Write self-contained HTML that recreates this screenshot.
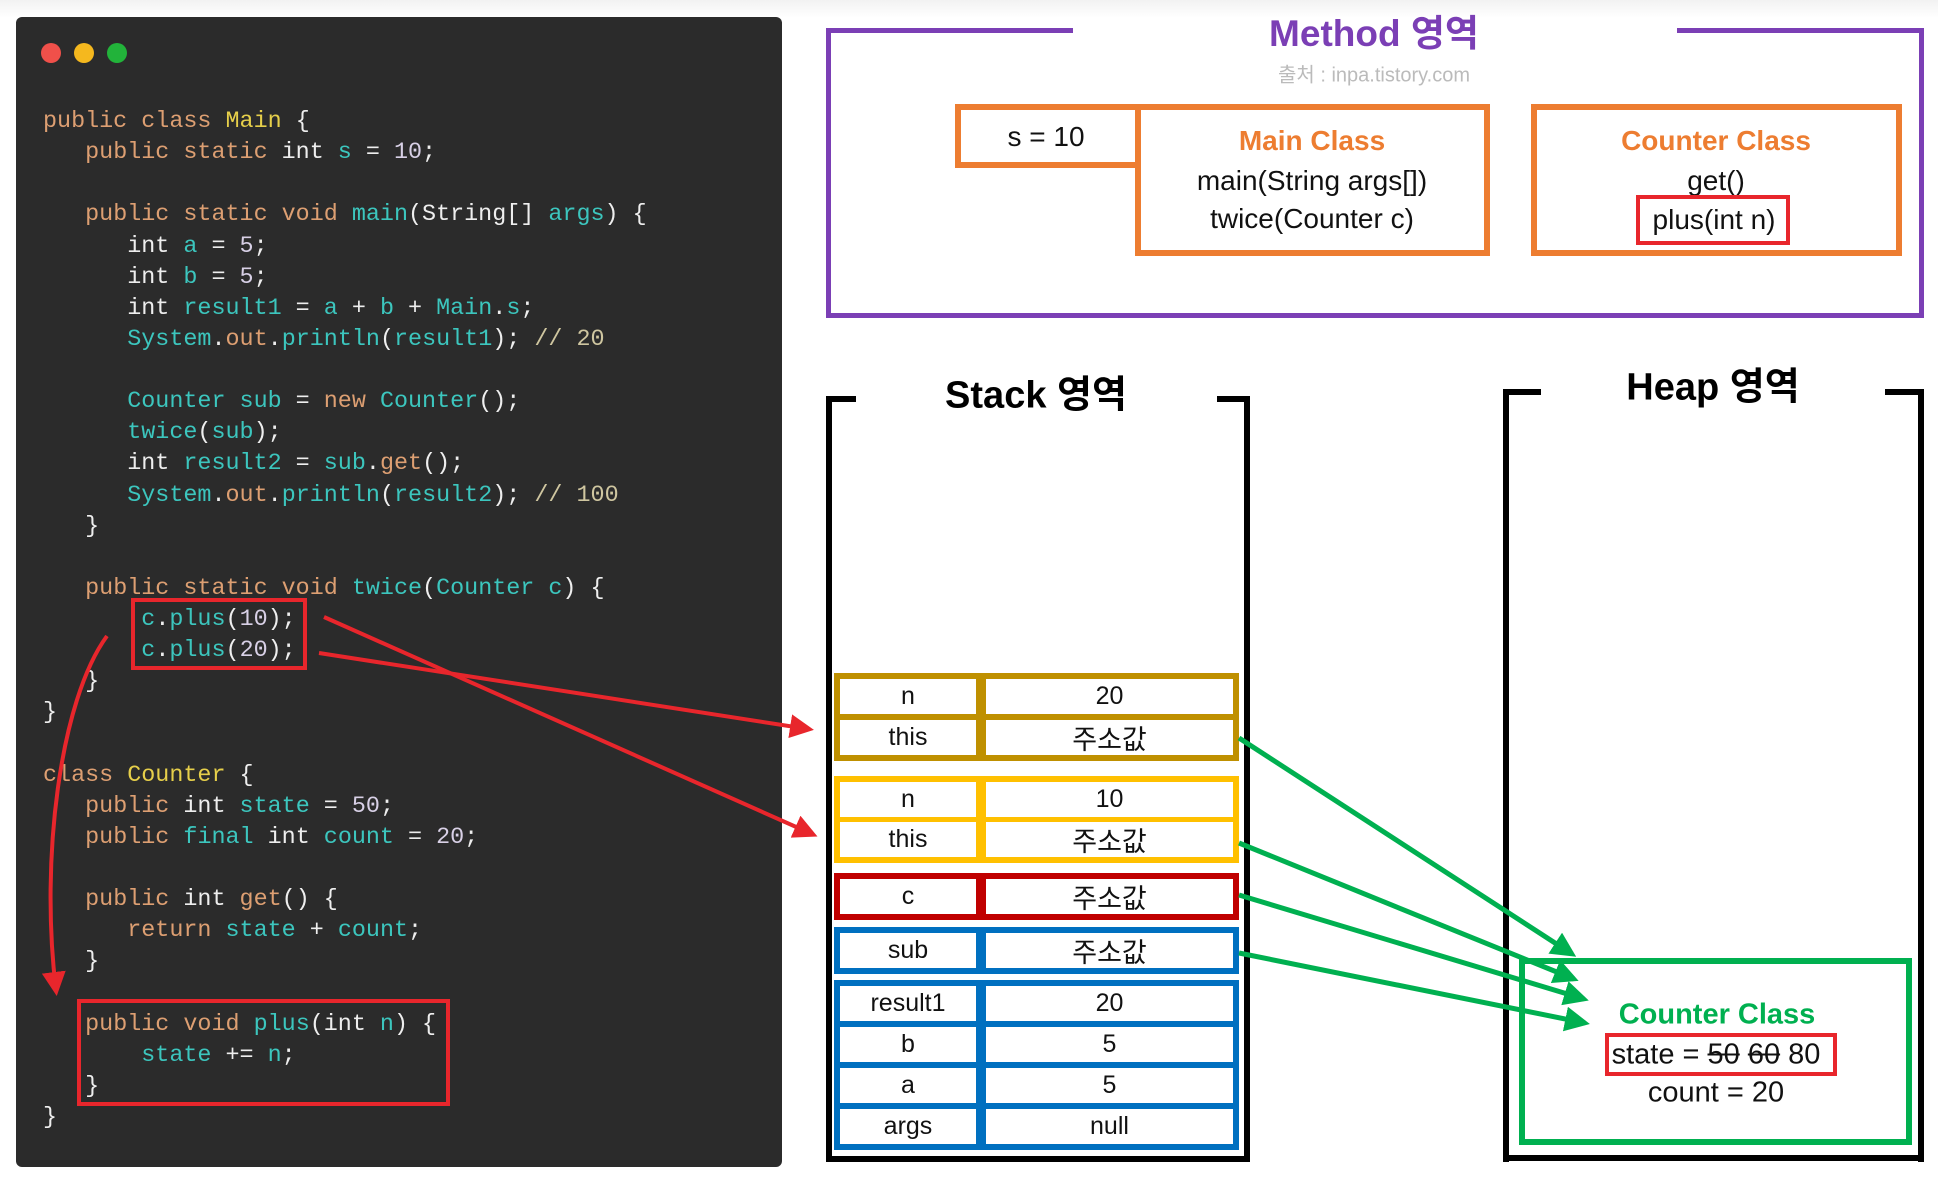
<!DOCTYPE html>
<html><head><meta charset="utf-8"><style>
*{margin:0;padding:0;box-sizing:border-box}
body{width:1938px;height:1184px;background:#fff;position:relative;overflow:hidden;font-family:"Liberation Sans","Noto Sans CJK KR",sans-serif}
.a{position:absolute}
#code{position:absolute;left:16px;top:17px;width:766px;height:1150px;background:#2b2b2b;border-radius:6px}
pre{position:absolute;left:43px;top:107px;font-family:"Liberation Mono","DejaVu Sans Mono",monospace;font-size:23.4px;line-height:31.13px;color:#eeeeee}
.k{color:#dd9f72}.t{color:#3cc6be}.y{color:#e6cf4a}.n{color:#d8d0e6}.c{color:#cfc6a0}
.grp{position:absolute;left:834px;width:405px}
.cell{position:absolute;background:#fff;display:flex;align-items:center;justify-content:center;font-size:25px;color:#111}
.ko{font-family:"Liberation Sans","Noto Sans CJK KR",sans-serif;font-size:27px}
.ctr{position:absolute;text-align:center;white-space:nowrap;transform:translate(-50%,-50%)}
</style></head><body>
<div style="position:absolute;left:0;top:0;width:1938px;height:18px;background:linear-gradient(#f2f2f2,#fff)"></div>
<div id="code">
<div class="a" style="left:25px;top:26px;width:20px;height:20px;border-radius:50%;background:#f0504a"></div>
<div class="a" style="left:58px;top:26px;width:20px;height:20px;border-radius:50%;background:#f5b81e"></div>
<div class="a" style="left:91px;top:26px;width:20px;height:20px;border-radius:50%;background:#22b33a"></div>
</div>
<pre><span class="k">public class</span> <span class="y">Main</span> {
   <span class="k">public static</span> int <span class="t">s</span> = <span class="n">10</span>;

   <span class="k">public static void</span> <span class="t">main</span>(String[] <span class="t">args</span>) {
      int <span class="t">a</span> = <span class="n">5</span>;
      int <span class="t">b</span> = <span class="n">5</span>;
      int <span class="t">result1</span> = <span class="t">a</span> + <span class="t">b</span> + <span class="t">Main</span>.<span class="t">s</span>;
      <span class="t">System</span>.<span class="k">out</span>.<span class="t">println</span>(<span class="t">result1</span>); <span class="c">// 20</span>

      <span class="t">Counter sub</span> = <span class="k">new</span> <span class="t">Counter</span>();
      <span class="t">twice</span>(<span class="t">sub</span>);
      int <span class="t">result2</span> = <span class="t">sub</span>.<span class="k">get</span>();
      <span class="t">System</span>.<span class="k">out</span>.<span class="t">println</span>(<span class="t">result2</span>); <span class="c">// 100</span>
   }

   <span class="k">public static void</span> <span class="t">twice</span>(<span class="t">Counter c</span>) {
       <span class="t">c</span>.<span class="t">plus</span>(<span class="n">10</span>);
       <span class="t">c</span>.<span class="t">plus</span>(<span class="n">20</span>);
   }
}

<span class="k">class</span> <span class="y">Counter</span> {
   <span class="k">public</span> int <span class="t">state</span> = <span class="n">50</span>;
   <span class="k">public</span> <span class="t">final</span> int <span class="t">count</span> = <span class="n">20</span>;

   <span class="k">public</span> int <span class="k">get</span>() {
      <span class="k">return</span> <span class="t">state</span> + <span class="t">count</span>;
   }

   <span class="k">public void</span> <span class="t">plus</span>(int <span class="t">n</span>) {
       <span class="t">state</span> += <span class="t">n</span>;
   }
}</pre>
<div class="a" style="left:131px;top:598px;width:176px;height:72px;border:4px solid #e8262c"></div>
<div class="a" style="left:77px;top:999px;width:373px;height:107px;border:4px solid #e8262c"></div>

<div class="a" style="left:826px;top:28px;width:1098px;height:290px;border:5px solid #7b3fb5"></div>
<div class="a" style="left:1073px;top:20px;width:604px;height:16px;background:#fff"></div>
<div class="ctr" style="left:1374px;top:30px;font-size:37px;font-weight:bold;color:#7b3fb5">Method 영역</div>
<div class="ctr" style="left:1374px;top:73px;font-size:20px;color:#bbb">출처 : inpa.tistory.com</div>
<div class="a" style="left:955px;top:104px;width:186px;height:64px;border:6px solid #ed7d31"></div>
<div class="ctr" style="left:1046px;top:137px;font-size:28px;color:#111">s = 10</div>
<div class="a" style="left:1135px;top:104px;width:355px;height:152px;border:6px solid #ed7d31"></div>
<div class="ctr" style="left:1312px;top:141px;font-size:28px;font-weight:bold;color:#ed7d31">Main Class</div>
<div class="ctr" style="left:1312px;top:181px;font-size:28px;color:#111">main(String args[])</div>
<div class="ctr" style="left:1312px;top:219px;font-size:28px;color:#111">twice(Counter c)</div>
<div class="a" style="left:1531px;top:104px;width:371px;height:152px;border:6px solid #ed7d31"></div>
<div class="ctr" style="left:1716px;top:141px;font-size:28px;font-weight:bold;color:#ed7d31">Counter Class</div>
<div class="ctr" style="left:1716px;top:181px;font-size:28px;color:#111">get()</div>
<div class="a" style="left:1636px;top:195px;width:154px;height:50px;border:4px solid #e8262c"></div>
<div class="ctr" style="left:1714px;top:220px;font-size:28px;color:#111">plus(int n)</div>

<div class="a" style="left:826px;top:396px;width:6px;height:766px;background:#000"></div>
<div class="a" style="left:1244px;top:396px;width:6px;height:766px;background:#000"></div>
<div class="a" style="left:826px;top:1156px;width:424px;height:6px;background:#000"></div>
<div class="a" style="left:826px;top:396px;width:30px;height:6px;background:#000"></div>
<div class="a" style="left:1217px;top:396px;width:33px;height:6px;background:#000"></div>
<div class="ctr" style="left:1036px;top:391px;font-size:38px;font-weight:bold;color:#000">Stack 영역</div>

<div class="a" style="left:1503px;top:389px;width:6px;height:773px;background:#000"></div>
<div class="a" style="left:1918px;top:389px;width:6px;height:773px;background:#000"></div>
<div class="a" style="left:1503px;top:1155px;width:421px;height:6px;background:#000"></div>
<div class="a" style="left:1503px;top:389px;width:38px;height:6px;background:#000"></div>
<div class="a" style="left:1885px;top:389px;width:39px;height:6px;background:#000"></div>
<div class="ctr" style="left:1713px;top:383px;font-size:38px;font-weight:bold;color:#000">Heap 영역</div>

<div class="grp" style="top:673px;height:88px;background:#bf9000">
 <div class="cell" style="left:6px;top:6px;width:136px;height:35px">n</div>
 <div class="cell" style="left:152px;top:6px;width:247px;height:35px">20</div>
 <div class="cell" style="left:6px;top:47px;width:136px;height:35px">this</div>
 <div class="cell ko" style="left:152px;top:47px;width:247px;height:35px">주소값</div>
</div>
<div class="grp" style="top:776px;height:87px;background:#ffc000">
 <div class="cell" style="left:6px;top:6px;width:136px;height:35px">n</div>
 <div class="cell" style="left:152px;top:6px;width:247px;height:35px">10</div>
 <div class="cell" style="left:6px;top:46px;width:136px;height:35px">this</div>
 <div class="cell ko" style="left:152px;top:46px;width:247px;height:35px">주소값</div>
</div>
<div class="grp" style="top:873px;height:47px;background:#c00000">
 <div class="cell" style="left:6px;top:6px;width:136px;height:35px">c</div>
 <div class="cell ko" style="left:152px;top:6px;width:247px;height:35px">주소값</div>
</div>
<div class="grp" style="top:927px;height:47px;background:#0070c0">
 <div class="cell" style="left:6px;top:6px;width:136px;height:35px">sub</div>
 <div class="cell ko" style="left:152px;top:6px;width:247px;height:35px">주소값</div>
</div>
<div class="grp" style="top:980px;height:170px;background:#0070c0">
 <div class="cell" style="left:6px;top:6px;width:136px;height:35px">result1</div>
 <div class="cell" style="left:152px;top:6px;width:247px;height:35px">20</div>
 <div class="cell" style="left:6px;top:47px;width:136px;height:35px">b</div>
 <div class="cell" style="left:152px;top:47px;width:247px;height:35px">5</div>
 <div class="cell" style="left:6px;top:88px;width:136px;height:35px">a</div>
 <div class="cell" style="left:152px;top:88px;width:247px;height:35px">5</div>
 <div class="cell" style="left:6px;top:129px;width:136px;height:35px">args</div>
 <div class="cell" style="left:152px;top:129px;width:247px;height:35px">null</div>
</div>

<div class="a" style="left:1519px;top:958px;width:393px;height:187px;border:6px solid #00b050"></div>
<div class="ctr" style="left:1717px;top:1015px;font-size:29px;font-weight:bold;color:#00b050">Counter Class</div>
<div class="a" style="left:1605px;top:1033px;width:232px;height:43px;border:4px solid #e8262c"></div>
<div class="ctr" style="left:1716px;top:1055px;font-size:29px;color:#111">state = <s>50</s> <s>60</s> 80</div>
<div class="ctr" style="left:1716px;top:1093px;font-size:29px;color:#111">count = 20</div>

<svg class="a" style="left:0;top:0" width="1938" height="1184">
<defs>
<marker id="r" markerWidth="6" markerHeight="6" refX="4.5" refY="3" orient="auto" markerUnits="strokeWidth"><path d="M0,0 L6,3 L0,6 z" fill="#e8262c"/></marker>
<marker id="g" markerWidth="5" markerHeight="5" refX="4" refY="2.5" orient="auto" markerUnits="strokeWidth"><path d="M0,0 L5,2.5 L0,5 z" fill="#00b050"/></marker>
</defs>
<g stroke="#e8262c" stroke-width="4" fill="none">
<line x1="324" y1="617" x2="812" y2="834" marker-end="url(#r)"/>
<line x1="319" y1="653" x2="808" y2="729" marker-end="url(#r)"/>
<path d="M107,636 C60,700 40,860 56,990" marker-end="url(#r)"/>
</g>
<g stroke="#00b050" stroke-width="5" fill="none">
<line x1="1239" y1="738" x2="1572" y2="954" marker-end="url(#g)"/>
<line x1="1239" y1="843" x2="1574" y2="979" marker-end="url(#g)"/>
<line x1="1239" y1="895" x2="1584" y2="999" marker-end="url(#g)"/>
<line x1="1239" y1="953" x2="1585" y2="1023" marker-end="url(#g)"/>
</g>
</svg>
</body></html>
